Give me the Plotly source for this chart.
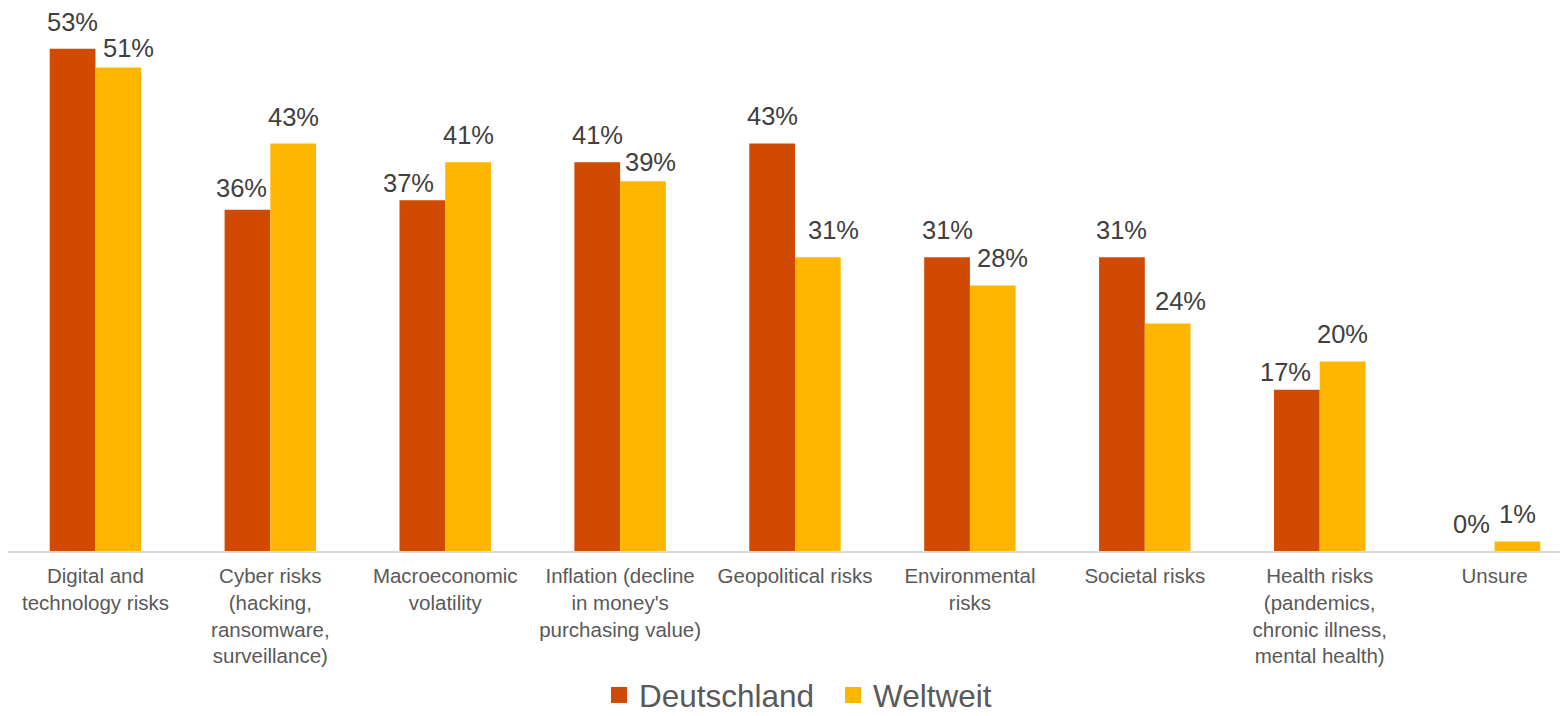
import plotly.graph_objects as go

# Survey results: share of respondents naming each risk (percent)
categories = [
    "Digital and<br>technology risks",
    "Cyber risks<br>(hacking,<br>ransomware,<br>surveillance)",
    "Macroeconomic<br>volatility",
    "Inflation (decline<br>in money's<br>purchasing value)",
    "Geopolitical risks",
    "Environmental<br>risks",
    "Societal risks",
    "Health risks<br>(pandemics,<br>chronic illness,<br>mental health)",
    "Unsure",
]
deutschland = [53, 36, 37, 41, 43, 31, 31, 17, 0]
weltweit = [51, 43, 41, 39, 31, 28, 24, 20, 1]
series_names = ["Deutschland", "Weltweit"]

# Styling
colors = ["#D04A02", "#FFB600"]
font_family = "Liberation Sans, Arial, sans-serif"
label_color = "#404040"
axis_text_color = "#595959"
bargap = 0.477

# Pixel nudges for the value labels (dodging the neighbouring bar)
de_label_dx = [0, -6, -14, 0, 0, 0, 0, -11, 0]
de_label_drop = [1, 6, 10, 0, 0, 0, 0, 10, 0]
we_label_dx = [10, 0, 0, 7.5, 15.5, 9.7, 12.7, 0, 0]
we_label_drop = [8, 1, 0, 8, 0, 0, 5, 0, 0]
label_lift = 11.5

fig = go.Figure()
for name, vals, col in zip(series_names, [deutschland, weltweit], colors):
    fig.add_trace(go.Bar(
        name=name, x=categories, y=vals, marker=dict(color=col, line=dict(width=0)),
        showlegend=False, hoverinfo="x+y",
    ))
    # legend entry with a larger square swatch
    fig.add_trace(go.Scatter(
        name=name, x=[None], y=[None], mode="markers",
        marker=dict(symbol="square", size=16, color=col), showlegend=True,
    ))

half = (1 - bargap) / 4.0
annotations = []
for i in range(len(categories)):
    for vals, sign, dx, drop in [
        (deutschland, -1, de_label_dx, de_label_drop),
        (weltweit, 1, we_label_dx, we_label_drop),
    ]:
        annotations.append(dict(
            x=i + sign * half, y=vals[i], xref="x", yref="y",
            text=f"{vals[i]}%", showarrow=False,
            xanchor="center", yanchor="bottom",
            xshift=dx[i], yshift=label_lift - drop[i],
            font=dict(family=font_family, size=25.5, color=label_color),
        ))

fig.update_layout(
    width=1560, height=716,
    margin=dict(l=8, r=0, t=0, b=165, autoexpand=False),
    paper_bgcolor="white", plot_bgcolor="white",
    barmode="group", bargap=bargap, bargroupgap=0,
    font=dict(family=font_family, color=axis_text_color),
    annotations=annotations,
    legend=dict(
        orientation="h", x=0.3808, xanchor="left",
        yref="paper", y=-0.3103, yanchor="bottom",
        entrywidth=189, entrywidthmode="pixels",
        font=dict(family=font_family, size=31.5, color=axis_text_color),
        bgcolor="rgba(0,0,0,0)",
    ),
    xaxis=dict(
        type="category", range=[-0.5, 8.374], automargin=False,
        showline=True, linecolor="#D9D9D9", linewidth=1.5,
        ticks="", showgrid=False, zeroline=False, ticklabelstandoff=6,
        tickfont=dict(family=font_family, size=20.5, color=axis_text_color),
    ),
    yaxis=dict(range=[0, 58.13], visible=False, showgrid=False, zeroline=False),
)

fig.write_html("out.html")
